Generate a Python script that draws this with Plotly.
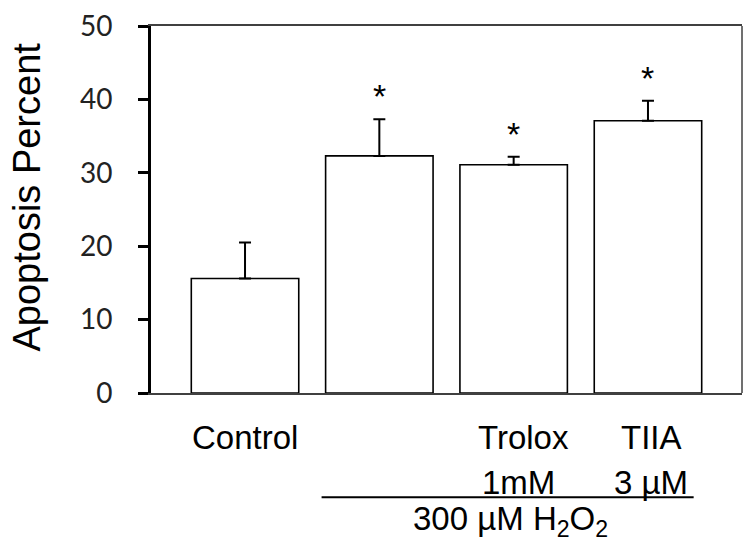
import plotly.graph_objects as go

# values
groups = ["Control", "300 µM H2O2", "Trolox 1mM", "TIIA 3 µM"]
means = [15.6, 32.3, 31.1, 37.1]
errors = [4.9, 5.0, 1.1, 2.7]
significant = [False, True, True, True]
y_ticks = [0, 10, 20, 30, 40, 50]

x = list(range(len(groups)))

fig = go.Figure()
fig.add_trace(go.Bar(
    x=x, y=means, width=0.8,
    marker=dict(color="white", line=dict(color="black", width=1.6)),
    error_y=dict(type="data", array=errors, arrayminus=[0] * len(errors),
                 symmetric=False, color="black", thickness=2, width=6),
    showlegend=False, hoverinfo="skip",
))

label_font = dict(family="Liberation Sans, Arial", size=33, color="black")

# significance stars above the error bars
for xi, m, e, s in zip(x, means, errors, significant):
    if s:
        fig.add_annotation(x=xi, y=m + e, text="*", showarrow=False,
                           yanchor="bottom", yshift=2,
                           font=dict(family="Liberation Sans, Arial", size=34, color="black"))

# category labels under the bars
fig.add_annotation(x=0, y=-0.122, yref="paper", text="Control", showarrow=False,
                   font=label_font, yanchor="middle")
fig.add_annotation(x=2, xshift=10, y=-0.122, yref="paper", text="Trolox", showarrow=False,
                   font=label_font, yanchor="middle")
fig.add_annotation(x=2, xshift=5, y=-0.243, yref="paper", text="1mM", showarrow=False,
                   font=label_font, yanchor="middle")
fig.add_annotation(x=3, xshift=4, y=-0.122, yref="paper", text="TIIA", showarrow=False,
                   font=label_font, yanchor="middle")
fig.add_annotation(x=3, xshift=3, y=-0.243, yref="paper", text="3 µM", showarrow=False,
                   font=label_font, yanchor="middle")
fig.add_shape(type="line", xref="x", yref="paper", x0=0.57, x1=3.34, y0=-0.284, y1=-0.284,
              line=dict(color="black", width=2))
fig.add_annotation(x=1.98, y=-0.35, yref="paper", text="300 µM H<sub>2</sub>O<sub>2</sub>",
                   showarrow=False, font=label_font, yanchor="middle")

# y axis title
fig.add_annotation(xref="paper", yref="paper", x=-0.21, y=0.535, text="Apoptosis Percent",
                   textangle=-90, showarrow=False, xanchor="center", yanchor="middle",
                   font=dict(family="Liberation Sans, Arial", size=38, color="black"))

# thin frame on right side
fig.add_shape(type="line", xref="paper", yref="paper", x0=1, x1=1, y0=0, y1=1,
              line=dict(color="#404040", width=1.5))

fig.update_xaxes(range=[-0.7, 3.7], showticklabels=False, ticks="", showgrid=False,
                 zeroline=False, showline=True, linecolor="#404040", linewidth=1.5, mirror=True)
fig.update_yaxes(range=[0, 50], tickvals=y_ticks, ticks="outside", ticklen=10, tickwidth=3,
                 tickcolor="black", showgrid=False, zeroline=False, showline=True,
                 linecolor="black", linewidth=3, ticklabelstandoff=20,
                 tickfont=dict(family="Lato", size=28, color="#222222"))

fig.update_layout(width=750, height=545, margin=dict(l=151, r=8, t=23, b=152),
                  plot_bgcolor="white", paper_bgcolor="white")

# drop the default body margin so the figure sits at the window's corner
fig.write_html("out.html", config={"displayModeBar": False},
               post_script="document.body.style.margin='0';")
